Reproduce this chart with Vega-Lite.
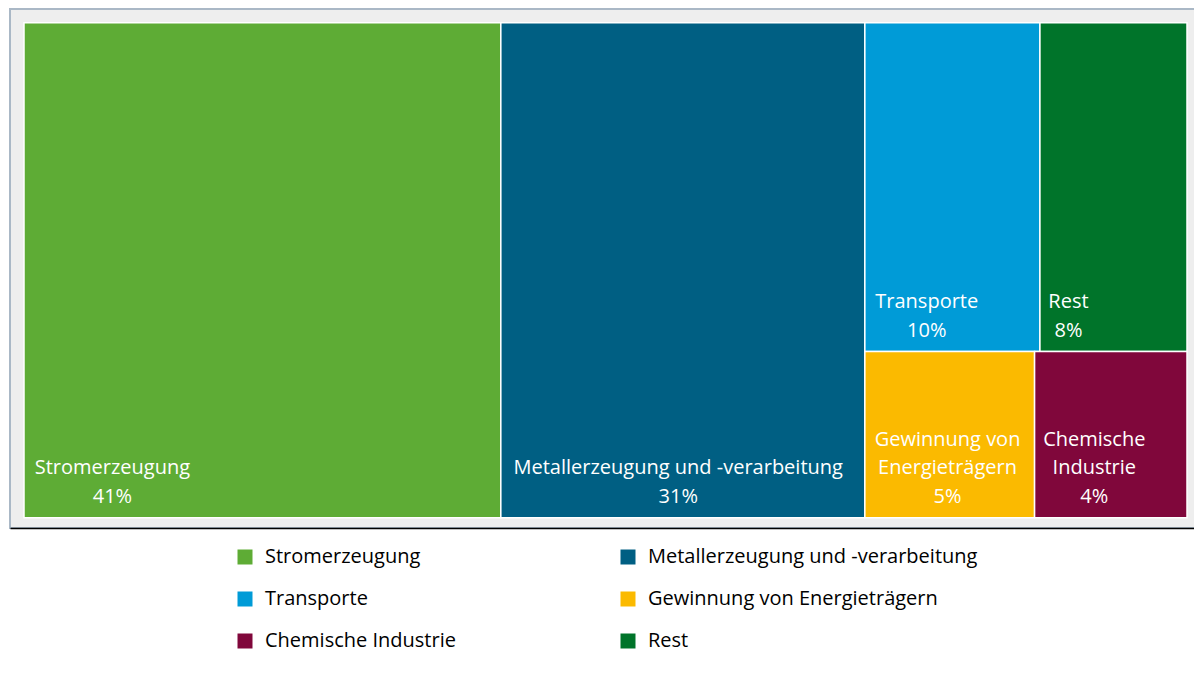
{
  "$schema": "https://vega.github.io/schema/vega-lite/v6.json",
  "width": 1191,
  "height": 519,
  "autosize": {"type": "none"},
  "padding": {"left": 10, "top": 9, "right": 0, "bottom": 149},
  "background": "white",
  "config": {
    "view": {"fill": "#eeeeee", "stroke": "#aab8c6", "strokeWidth": 2},
    "font": "Open Sans"
  },
  "data": {
    "values": [
      {"sector": "Stromerzeugung", "label": "Stromerzeugung", "share": 41.0, "col": 1, "row": 1, "pos": 1},
      {"sector": "Metallerzeugung und -verarbeitung", "label": "Metallerzeugung und -verarbeitung", "share": 31.3, "col": 2, "row": 1, "pos": 1},
      {"sector": "Transporte", "label": "Transporte", "share": 10.0, "col": 3, "row": 1, "pos": 1},
      {"sector": "Rest", "label": "Rest", "share": 8.4, "col": 3, "row": 1, "pos": 2},
      {"sector": "Gewinnung von Energieträgern", "label": "Gewinnung von\nEnergieträgern", "share": 4.9, "col": 3, "row": 2, "pos": 1},
      {"sector": "Chemische Industrie", "label": "Chemische\nIndustrie", "share": 4.4, "col": 3, "row": 2, "pos": 2}
    ]
  },
  "transform": [
    {"joinaggregate": [{"op": "sum", "field": "share", "as": "colTotal"}], "groupby": ["col"]},
    {"joinaggregate": [{"op": "sum", "field": "share", "as": "rowTotal"}], "groupby": ["col", "row"]},
    {"window": [{"op": "sum", "field": "share", "as": "cumAll"}], "sort": [{"field": "col"}, {"field": "row"}, {"field": "pos"}], "frame": [null, 0]},
    {"joinaggregate": [{"op": "max", "field": "cumAll", "as": "colEnd"}], "groupby": ["col"]},
    {"calculate": "datum.colEnd - datum.colTotal", "as": "colStart"},
    {"window": [{"op": "sum", "field": "share", "as": "cumCol"}], "groupby": ["col"], "sort": [{"field": "row"}, {"field": "pos"}], "frame": [null, 0]},
    {"joinaggregate": [{"op": "max", "field": "cumCol", "as": "rowEnd"}], "groupby": ["col", "row"]},
    {"window": [{"op": "sum", "field": "share", "as": "cumRow"}], "groupby": ["col", "row"], "sort": [{"field": "pos"}], "frame": [null, 0]},
    {"calculate": "datum.colStart + (datum.cumRow - datum.share) / datum.rowTotal * datum.colTotal", "as": "x0"},
    {"calculate": "datum.colStart + datum.cumRow / datum.rowTotal * datum.colTotal", "as": "x1"},
    {"calculate": "(datum.rowEnd - datum.rowTotal) / datum.colTotal * 100", "as": "y0"},
    {"calculate": "datum.rowEnd / datum.colTotal * 100", "as": "y1"},
    {"calculate": "datum.label + '\\n' + format(datum.share, '.0f') + '%'", "as": "txt"},
    {"calculate": "split(datum.label, '\\n')", "as": "lines"},
    {"calculate": "datum.lines[0]", "as": "l1"},
    {"calculate": "length(datum.lines) > 1 ? datum.lines[1] : ''", "as": "l2"},
    {"calculate": "20 * (0.6 * length(datum.l1) - 0.32 * length(replace(datum.l1, regexp('[^iltfjI -]', 'g'), '')) - 0.13 * length(replace(datum.l1, regexp('[^rszcv]', 'g'), '')) + 0.25 * length(replace(datum.l1, regexp('[^mwMW]', 'g'), '')))", "as": "w1"},
    {"calculate": "20 * (0.6 * length(datum.l2) - 0.32 * length(replace(datum.l2, regexp('[^iltfjI -]', 'g'), '')) - 0.13 * length(replace(datum.l2, regexp('[^rszcv]', 'g'), '')) + 0.25 * length(replace(datum.l2, regexp('[^mwMW]', 'g'), '')))", "as": "w2"},
    {"calculate": "max(datum.w1, datum.w2)", "as": "wEst"}
  ],
  "layer": [
    {
      "mark": {"type": "rect", "stroke": "white", "strokeWidth": 1.5},
      "encoding": {
        "x": {
          "field": "x0", "type": "quantitative",
          "scale": {"domain": [0, 100], "padding": 14, "nice": false, "zero": false},
          "axis": {"labels": false, "ticks": false, "grid": false, "domain": true, "domainColor": "#000000", "domainWidth": 1.5, "title": null, "zindex": 2}
        },
        "x2": {"field": "x1"},
        "y": {
          "field": "y0", "type": "quantitative",
          "scale": {"domain": [-2.77, 102.08], "reverse": true, "nice": false, "zero": false},
          "axis": null
        },
        "y2": {"field": "y1"},
        "color": {
          "field": "sector", "type": "nominal",
          "scale": {
            "domain": ["Stromerzeugung", "Transporte", "Chemische Industrie", "Metallerzeugung und -verarbeitung", "Gewinnung von Energieträgern", "Rest"],
            "range": ["#5eac35", "#009bd7", "#80073b", "#005f83", "#fbba00", "#00742a"]
          },
          "legend": {
            "orient": "none", "legendX": 225, "legendY": 538, "columns": 2,
            "columnPadding": 162, "rowPadding": 22,
            "symbolType": "square", "symbolSize": 225, "symbolStrokeWidth": 0,
            "labelFontSize": 20, "labelFont": "Open Sans", "labelColor": "#000000",
            "labelOffset": 10, "labelLimit": 500, "title": null
          }
        }
      }
    },
    {
      "mark": {
        "type": "text", "align": "center", "baseline": "bottom",
        "dx": {"expr": "9 + datum.wEst / 2"},
        "dy": {"expr": "-11 - 28.5 * (length(split(datum.txt, '\\n')) - 1)"},
        "lineBreak": "\n", "lineHeight": 28.5,
        "fill": "#ffffff", "font": "Open Sans", "fontSize": 20
      },
      "encoding": {
        "x": {"field": "x0", "type": "quantitative"},
        "y": {"field": "y1", "type": "quantitative", "axis": null},
        "text": {"field": "txt"}
      }
    }
  ]
}
